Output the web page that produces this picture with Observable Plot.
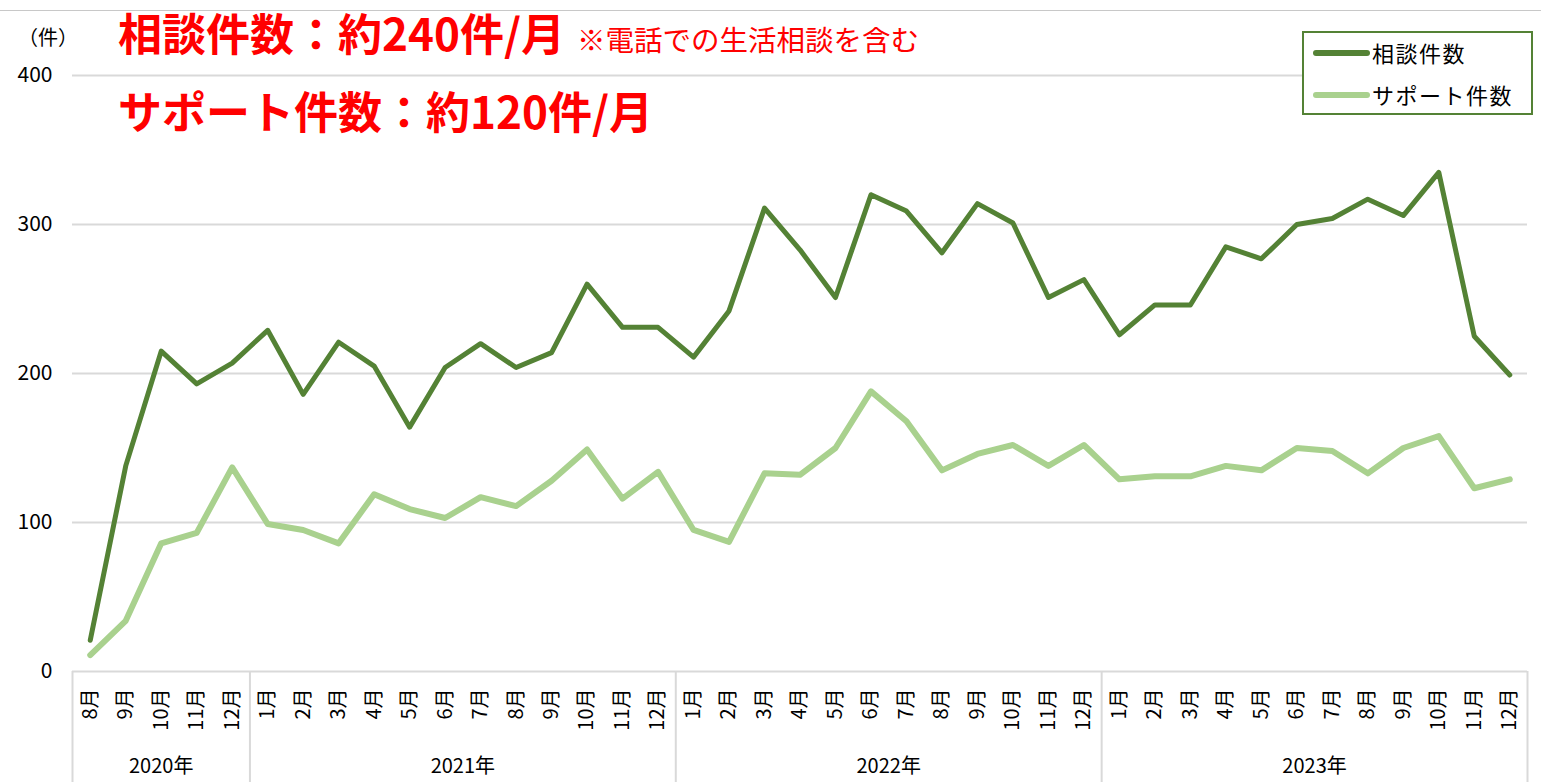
<!DOCTYPE html>
<html><head><meta charset="utf-8">
<script src="https://cdn.jsdelivr.net/npm/d3@7"></script>
<script src="https://cdn.jsdelivr.net/npm/@observablehq/plot@0.6"></script>
<style>
body{margin:0;background:#fff;font-family:"Noto Sans CJK JP","Noto Sans",sans-serif;}
#wrap{position:relative;width:1541px;height:782px;overflow:hidden;background:#fff}
#chart{position:absolute;left:0;top:0}
.topline{position:absolute;left:0;top:10px;width:1541px;height:1px;background:#c8c8c8}
.unit{position:absolute;left:18px;top:27px;font-size:20px;line-height:20px;color:#000}
.t1,.t2{position:absolute;left:118px;color:#ff0000;font-weight:bold;font-size:44px;line-height:1;white-space:nowrap}
.t1{top:10px}
.t2{top:88px}
.note{font-size:28.5px;font-weight:normal;margin-left:12px}
.legend{position:absolute;left:1302px;top:31px;width:227px;height:80px;border:2px solid #548235;background:#fff}
.row{position:absolute;left:0;height:30px;width:227px}
.sw{position:absolute;left:9px;top:13px;width:57px;height:6px;border-radius:3px}
.lab{position:absolute;left:68px;top:3px;font-size:22px;letter-spacing:1.5px;line-height:24px;color:#000;white-space:nowrap}
</style></head><body>
<div id="wrap">
  <div id="chart"></div>
  <div class="topline"></div>
  <div class="unit">（件）</div>
  <div class="t1">相談件数：約240件/月<span class="note">※電話での生活相談を含む</span></div>
  <div class="t2">サポート件数：約120件/月</div>
  <div class="legend" id="legend"></div>
</div>
<script>
const months = ["8月","9月","10月","11月","12月",
  "1月","2月","3月","4月","5月","6月","7月","8月","9月","10月","11月","12月",
  "1月","2月","3月","4月","5月","6月","7月","8月","9月","10月","11月","12月",
  "1月","2月","3月","4月","5月","6月","7月","8月","9月","10月","11月","12月"];
const monthYear = [2020,2020,2020,2020,2020,
  2021,2021,2021,2021,2021,2021,2021,2021,2021,2021,2021,2021,
  2022,2022,2022,2022,2022,2022,2022,2022,2022,2022,2022,2022,
  2023,2023,2023,2023,2023,2023,2023,2023,2023,2023,2023,2023];
const years = [2020,2021,2022,2023];
const yearLabels = ["2020年","2021年","2022年","2023年"];
const consult = [21,138,215,193,207,
  229,186,221,205,164,204,220,204,214,260,231,231,
  211,242,311,283,251,320,309,281,314,301,251,263,
  226,246,246,285,277,300,304,317,306,335,225,199];
const support = [11,34,86,93,137,
  99,95,86,119,109,103,117,111,128,149,116,134,
  95,87,133,132,150,188,168,135,146,152,138,152,
  129,131,131,138,135,150,148,133,150,158,123,129];
const yTicks = [0,100,200,300,400];
const seriesNames = ["相談件数","サポート件数"];
const seriesColors = ["#548235","#a9d18e"];

const data = months.map((m,i)=>({i, m, consult: consult[i], support: support[i]}));
const groups = years.map((y,k)=>{
  const idx = monthYear.map((v,i)=>v===y?i:-1).filter(i=>i>=0);
  const start = idx[0]-0.5, end = idx[idx.length-1]+0.5;
  return {label: yearLabels[k], start, end, mid:(start+end)/2};
});
const bounds = Array.from(new Set(groups.flatMap(g=>[g.start,g.end])));

const chart = Plot.plot({
  width:1541, height:782,
  marginLeft:72, marginRight:14, marginTop:75, marginBottom:111,
  x:{domain:[-0.5, months.length-0.5], axis:null},
  y:{domain:[0,400]},
  style:{fontFamily:'"Noto Sans CJK JP","Noto Sans",sans-serif', color:"#000", background:"transparent", overflow:"visible"},
  marks:[
    Plot.ruleY(yTicks,{stroke:"#d9d9d9",strokeWidth:2}),
    Plot.axisY(yTicks,{tickSize:0,tickPadding:20,fontSize:21,label:null}),
    Plot.ruleX(bounds,{x:d=>d,y1:0,y2:0,insetBottom:-111,stroke:"#d9d9d9",strokeWidth:2}),
    Plot.line(data,{x:"i",y:"support",stroke:seriesColors[1],strokeWidth:6}),
    Plot.line(data,{x:"i",y:"consult",stroke:seriesColors[0],strokeWidth:5}),
    Plot.text(data,{x:"i",y:0,text:"m",rotate:-90,textAnchor:"end",dy:17,fontSize:20,fill:"#000"}),
    Plot.text(groups,{x:"mid",y:0,text:"label",dy:95,fontSize:20,fill:"#000"})
  ]
});
document.getElementById("chart").appendChild(chart);

const leg = document.getElementById("legend");
seriesNames.forEach((n,k)=>{
  const row = document.createElement("div");
  row.className="row"; row.style.top = (4 + k*42) + "px";
  row.innerHTML = `<div class="sw" style="background:${seriesColors[k]}"></div><div class="lab">${n}</div>`;
  leg.appendChild(row);
});
</script>
</body></html>
